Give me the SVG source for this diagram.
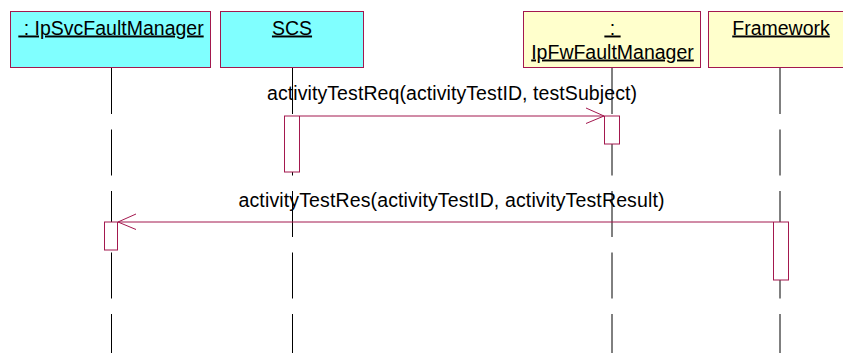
<svg xmlns="http://www.w3.org/2000/svg" width="843" height="353" viewBox="0 0 843 353">
<style>
  .obj { stroke: #A3184E; stroke-width: 1; }
  .cyan { fill: #80FFFF; }
  .yellow { fill: #FFFFCC; }
  .lbl { font-family: "Liberation Sans", Arial, sans-serif; font-size: 19.5px; fill: #000; text-anchor: middle; white-space: pre; }
  .u { text-decoration: underline; }
  .life { stroke: #000; stroke-width: 1; stroke-dasharray: 46 15.5; fill: none; }
  .act { fill: #FFFFFF; stroke: #A3184E; stroke-width: 1; }
  .msg { stroke: #A3184E; stroke-width: 1; fill: none; }
</style>
<rect width="843" height="353" fill="#FFFFFF"/>
<g id="lifelines">
  <line class="life" x1="111.5" y1="68" x2="111.5" y2="360"/>
  <line class="life" x1="292.5" y1="68" x2="292.5" y2="360"/>
  <line class="life" x1="612" y1="68" x2="612" y2="360"/>
  <line class="life" x1="780" y1="68" x2="780" y2="360"/>
</g>
<g id="node-ipsvcfaultmanager">
  <rect class="obj cyan" x="10.5" y="11.5" width="200" height="56"/>
  <text class="lbl u" x="111" y="34.5" xml:space="preserve"> : IpSvcFaultManager</text>
  <rect class="act" x="104.5" y="222" width="13" height="28"/>
</g>
<g id="node-scs">
  <rect class="obj cyan" x="220.5" y="11.5" width="143" height="56"/>
  <text class="lbl u" x="292" y="34.5">SCS</text>
  <rect class="act" x="284.5" y="116" width="15" height="56"/>
</g>
<g id="node-ipfwfaultmanager">
  <rect class="obj yellow" x="523.5" y="11.5" width="177" height="56"/>
  <text class="lbl u" x="612.5" y="34.5" xml:space="preserve"> : </text>
  <text class="lbl u" x="612.5" y="58.5">IpFwFaultManager</text>
  <rect class="act" x="604.5" y="116" width="15" height="28"/>
</g>
<g id="node-framework">
  <rect class="obj yellow" x="708.5" y="11.5" width="144" height="56"/>
  <text class="lbl u" x="781" y="34.5">Framework</text>
  <rect class="act" x="773.5" y="222" width="15" height="58"/>
</g>
<g id="connectors">
  <g id="msg-activityTestReq">
    <line class="msg" x1="300" y1="116" x2="604" y2="116"/>
    <polyline class="msg" points="586,108 604,116 586,123.5"/>
    <text class="lbl" x="452" y="100" textLength="370" lengthAdjust="spacing">activityTestReq(activityTestID, testSubject)</text>
  </g>
  <g id="msg-activityTestRes">
    <line class="msg" x1="773" y1="222" x2="118" y2="222"/>
    <polyline class="msg" points="136,214 118,222 136,229.5"/>
    <text class="lbl" x="451.5" y="206.5" textLength="426" lengthAdjust="spacing">activityTestRes(activityTestID, activityTestResult)</text>
  </g>
</g>
</svg>
